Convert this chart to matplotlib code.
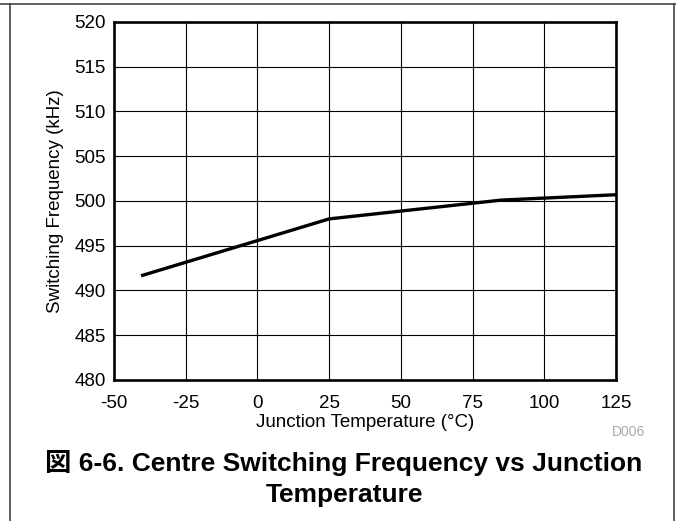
import matplotlib
matplotlib.use("Agg")
import matplotlib.pyplot as plt
from matplotlib.lines import Line2D

# data
temps = [-40, 25, 85, 125]
freq_khz = [491.7, 498.0, 500.1, 500.7]

x_ticks = [-50, -25, 0, 25, 50, 75, 100, 125]
y_ticks = [480, 485, 490, 495, 500, 505, 510, 515, 520]

title_lines = ["図 6-6. Centre Switching Frequency vs Junction", "Temperature"]

W, H = 676, 521
fig = plt.figure(figsize=(W / 100, H / 100), dpi=100)
fig.patch.set_facecolor("white")

plt.rcParams["font.family"] = ["Liberation Sans", "Noto Sans CJK JP", "DejaVu Sans"]

# page frame (datasheet box)
frame_kw = dict(color="#444444", linewidth=1.2, transform=fig.transFigure)
fig.add_artist(Line2D([0, 1], [1 - 4 / H, 1 - 4 / H], **frame_kw))
fig.add_artist(Line2D([10 / W, 10 / W], [0, 1 - 4 / H], **frame_kw))
fig.add_artist(Line2D([674 / W, 674 / W], [0, 1 - 4 / H], **frame_kw))

ax = fig.add_axes([114 / W, 1 - 380 / H, (616 - 114) / W, (380 - 22) / H])

ax.plot(temps, freq_khz, color="black", linewidth=2.4, zorder=3,
        solid_joinstyle="miter")

ax.set_xlim(-50, 125)
ax.set_ylim(480, 520)
ax.set_xticks(x_ticks)
ax.set_yticks(y_ticks)
ax.set_xticklabels([str(v) for v in x_ticks], fontsize=13.5)
ax.set_yticklabels([str(v) for v in y_ticks], fontsize=13.5)
ax.tick_params(axis="y", length=0, pad=6)
ax.tick_params(axis="x", length=0, pad=10.5)
ax.grid(True, color="black", linewidth=0.8, zorder=0)
ax.set_axisbelow(True)

for spine in ax.spines.values():
    spine.set_linewidth(1.9)
    spine.set_color("black")

ax.set_xlabel("Junction Temperature (°C)", fontsize=13.5, labelpad=2)
ax.set_ylabel("Switching Frequency (kHz)", fontsize=13.5, labelpad=7)

fig.text(645 / W, 1 - 432 / H, "D006", fontsize=10, color="#aaaaaa",
         ha="right", va="center")

fig.text(344 / W, 1 - 463 / H, title_lines[0], fontsize=19, fontweight="bold",
         ha="center", va="center")
fig.text(344 / W, 1 - 495 / H, title_lines[1], fontsize=19, fontweight="bold",
         ha="center", va="center")

fig.savefig("out.png", dpi=100, facecolor=fig.get_facecolor())
plt.close(fig)
